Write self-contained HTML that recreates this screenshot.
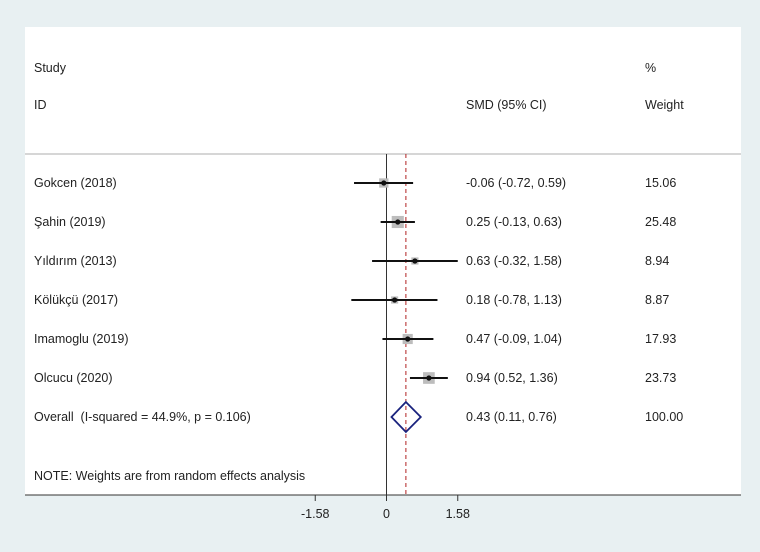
<!DOCTYPE html>
<html><head><meta charset="utf-8"><style>
html,body{margin:0;padding:0;background:#e8f0f2;}
svg{display:block;font-family:"Liberation Sans",Arial,sans-serif;}
</style></head><body>
<svg width="760" height="552">
<rect x="25" y="27" width="716" height="468" fill="#fff"/>
<line x1="25" y1="154" x2="741" y2="154" stroke="#c8c8c8" stroke-width="1.5"/>
<g font-size="12.5" fill="#222">
<text x="34" y="72">Study</text>
<text x="34" y="109">ID</text>
<text x="466" y="109">SMD (95% CI)</text>
<text x="645" y="72">%</text>
<text x="645" y="109">Weight</text>
<text x="34" y="480">NOTE: Weights are from random effects analysis</text>
</g>
<g id="g"></g>
</svg>
<script>
const studies=["Gokcen (2018)","Şahin (2019)","Yıldırım (2013)","Kölükçü (2017)","Imamoglu (2019)","Olcucu (2020)"];
const smd=[-0.06,0.25,0.63,0.18,0.47,0.94];
const lower=[-0.72,-0.13,-0.32,-0.78,-0.09,0.52];
const upper=[0.59,0.63,1.58,1.13,1.04,1.36];
const weights=["15.06","25.48","8.94","8.87","17.93","23.73"];
const overall=[0.43,0.11,0.76];
const overallLabel="Overall\u00a0\u00a0(I-squared = 44.9%, p = 0.106)";
const ticks=[-1.58,0,1.58];
const X=v=>386.5+v*45.1;
const rowY=i=>183+i*39;
const NS="http://www.w3.org/2000/svg";
const g=document.getElementById('g');
function mk(t,a,txt){const e=document.createElementNS(NS,t);for(const k in a)e.setAttribute(k,a[k]);if(txt!==undefined)e.textContent=txt;g.appendChild(e);return e;}
const f=v=>v.toFixed(2);
const FS=12.5;
let ax=mk('line',{x1:25,x2:741,y1:495,y2:495,stroke:'#333','stroke-width':1});


let zl=mk('line',{x1:X(0),x2:X(0),y1:154,y2:495,stroke:'#333','stroke-width':1});


ticks.forEach(t=>{
 let tl=mk('line',{x1:X(t),x2:X(t),y1:495,y2:501,stroke:'#333'});
 
 
 let tt=mk('text',{x:X(t),y:518,'text-anchor':'middle','font-size':FS,fill:'#222'},t===0?'0':t.toFixed(2));
 
 
});
let rl=mk('line',{x1:X(overall[0]),x2:X(overall[0]),y1:154,y2:495,stroke:'#b22222','stroke-width':1,'stroke-dasharray':'4,3'});


studies.forEach((s,i)=>{
 const y=rowY(i);
 let lb=mk('text',{x:34,y:y+4,'font-size':FS,fill:'#222'},s);
 
 
 const w=parseFloat(weights[i]);const sz=2.4*Math.sqrt(w);
 let bx=mk('rect',{x:X(smd[i])-sz/2,y:y-sz/2,width:sz,height:sz,fill:'#bdbdbd'});
 
 
 let ci=mk('line',{x1:X(lower[i]),x2:X(upper[i]),y1:y,y2:y,stroke:'#111','stroke-width':2});
 
 
 let pt=mk('circle',{cx:X(smd[i]),cy:y,r:2.6,fill:'#111'});
 
 
 let ct=mk('text',{x:466,y:y+4,'font-size':FS,fill:'#222'},`${f(smd[i])} (${f(lower[i])}, ${f(upper[i])})`);
 
 
 let wt=mk('text',{x:645,y:y+4,'font-size':FS,fill:'#222'},weights[i]);
 
 
});
const oy=rowY(6);
let ol=mk('text',{x:34,y:oy+4,'font-size':FS,fill:'#222'},overallLabel);


let dm=mk('polygon',{points:`${X(overall[1])},${oy} ${X(overall[0])},${oy-15} ${X(overall[2])},${oy} ${X(overall[0])},${oy+15}`,fill:'none',stroke:'#1a237e','stroke-width':1.8});


let oc=mk('text',{x:466,y:oy+4,'font-size':FS,fill:'#222'},`${f(overall[0])} (${f(overall[1])}, ${f(overall[2])})`);


let ow=mk('text',{x:645,y:oy+4,'font-size':FS,fill:'#222'},'100.00');


</script>
</body></html>
